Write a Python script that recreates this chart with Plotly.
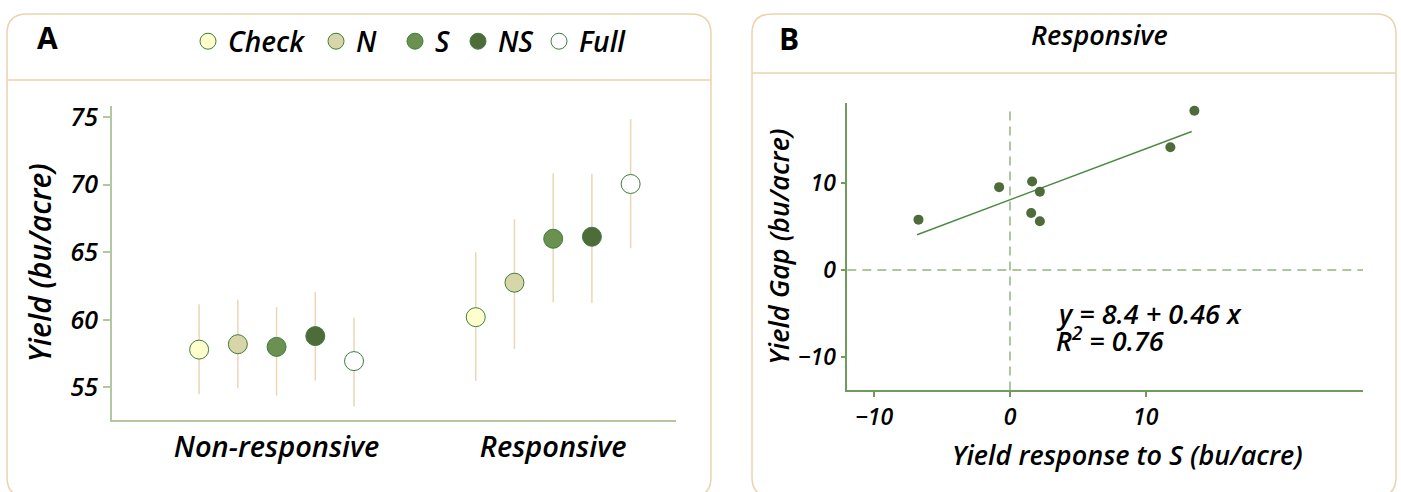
import plotly.graph_objects as go

W, H = 1401, 492

# ---------------- data: panel A ----------------
groups = ["Non-responsive", "Responsive"]
treatments = ["Check", "N", "S", "NS", "Full"]

mean_check = [57.8, 60.2]
hi_check = [61.15, 65.0]
lo_check = [54.5, 55.5]

mean_n = [58.2, 62.75]
hi_n = [61.5, 67.45]
lo_n = [54.95, 57.85]

mean_s = [58.0, 66.0]
hi_s = [60.95, 70.85]
lo_s = [54.4, 61.3]

mean_ns = [58.8, 66.15]
hi_ns = [62.05, 70.8]
lo_ns = [55.5, 61.25]

mean_full = [56.95, 70.05]
hi_full = [60.15, 74.85]
lo_full = [53.6, 65.3]

yield_ticks = [55, 60, 65, 70, 75]

# ---------------- data: panel B ----------------
s_response = [-6.75, -0.81, 1.62, 2.19, 1.55, 2.19, 11.80, 13.57]
yield_gap = [5.79, 9.53, 10.18, 9.01, 6.55, 5.60, 14.11, 18.31]
fit_x = [-6.83, 13.40]
fit_y = [4.05, 15.93]
b_ticks = [-10, 0, 10]

# ---------------- styles ----------------
FONT = "Open Sans"
fill_colors = ["#FFFFCC", "#D8D6A8", "#6A9150", "#4E6B3A", "#FFFFFF"]
edge_color = "#3E7D3E"
err_color = "#EBD6B6"
frame_color = "#EBD3AE"
axisA_color = "#B3C8A0"
axisB_color = "#6F9C5C"
dot_color = "#4E6B3A"
legend_left_px = [188, 316, 395, 458, 539]   # left edge of each legend entry (layout)


def it(size, weight=600, style="italic", color="black"):
    return dict(family=FONT, size=size, weight=weight, style=style, color=color)


def px(x):
    return x / W


def py(y):
    return 1 - y / H


means = [mean_check, mean_n, mean_s, mean_ns, mean_full]
highs = [hi_check, hi_n, hi_s, hi_ns, hi_full]
lows = [lo_check, lo_n, lo_s, lo_ns, lo_full]
legend_ids = ["legend"] + [f"legend{i}" for i in range(2, len(treatments) + 1)]

fig = go.Figure()

for name, m, hi, lo, col, lg in zip(treatments, means, highs, lows, fill_colors, legend_ids):
    fig.add_trace(go.Scatter(
        x=groups, y=m, name=name, mode="markers",
        marker=dict(size=19, color=col, line=dict(color=edge_color, width=1)),
        error_y=dict(type="data", symmetric=False,
                     array=[h - v for h, v in zip(hi, m)],
                     arrayminus=[v - l for l, v in zip(lo, m)],
                     color=err_color, thickness=1.5, width=0),
        xaxis="x", yaxis="y", showlegend=True, legend=lg,
    ))

fig.add_trace(go.Scatter(
    x=fit_x, y=fit_y, mode="lines", line=dict(color="#4C8A45", width=1.5),
    xaxis="x2", yaxis="y2", showlegend=False,
))
fig.add_trace(go.Scatter(
    x=s_response, y=yield_gap, mode="markers",
    marker=dict(size=10, color=dot_color),
    xaxis="x2", yaxis="y2", showlegend=False,
))


def rounded_rect(x0, y0, x1, y1, r):
    pts = [
        ("M", [(x0 + r, y0)]), ("L", [(x1 - r, y0)]), ("Q", [(x1, y0), (x1, y0 + r)]),
        ("L", [(x1, y1 - r)]), ("Q", [(x1, y1), (x1 - r, y1)]),
        ("L", [(x0 + r, y1)]), ("Q", [(x0, y1), (x0, y1 - r)]),
        ("L", [(x0, y0 + r)]), ("Q", [(x0, y0), (x0 + r, y0)]),
    ]
    s = ""
    for cmd, ps in pts:
        s += cmd + " " + " ".join(f"{px(a):.5f},{py(b):.5f}" for a, b in ps) + " "
    return s + "Z"


shapes = [
    dict(type="path", xref="paper", yref="paper", path=rounded_rect(7, 7, 711, 497, 20),
         line=dict(color=frame_color, width=1.5), layer="below"),
    dict(type="path", xref="paper", yref="paper", path=rounded_rect(752, 7, 1396, 497, 20),
         line=dict(color=frame_color, width=1.5), layer="below"),
    dict(type="line", xref="paper", yref="paper", x0=px(7), x1=px(711), y0=py(74), y1=py(74),
         line=dict(color=frame_color, width=1.5)),
    dict(type="line", xref="paper", yref="paper", x0=px(752), x1=px(1396), y0=py(67), y1=py(67),
         line=dict(color=frame_color, width=1.5)),
    dict(type="line", xref="x2 domain", yref="y2", x0=0, x1=1, y0=0, y1=0,
         line=dict(color="#93B47F", width=1.5, dash="9px,6px"), layer="below"),
    dict(type="line", xref="x2", yref="y2 domain", x0=0, x1=0, y0=0, y1=0.99,
         line=dict(color="#93B47F", width=1.5, dash="9px,6px"), layer="below"),
]

annotations = [
    dict(text="A", x=px(47), y=py(31), xref="paper", yref="paper", showarrow=False,
         font=it(30, weight=700, style="normal"), xanchor="center", yanchor="middle"),
    dict(text="B", x=px(789), y=py(32), xref="paper", yref="paper", showarrow=False,
         font=it(30, weight=700, style="normal"), xanchor="center", yanchor="middle"),
    dict(text="Responsive", x=px(1099), y=py(28), xref="paper", yref="paper", showarrow=False,
         font=it(27), xanchor="center", yanchor="middle"),
    dict(text="y = 8.4 + 0.46 x", x=px(1054), y=py(311),
         xref="paper", yref="paper", showarrow=False, align="left",
         font=it(27), xanchor="left", yanchor="middle"),
    dict(text="R<sup>2</sup> = 0.76", x=px(1054), y=py(337),
         xref="paper", yref="paper", showarrow=False, align="left",
         font=it(27), xanchor="left", yanchor="middle"),
    dict(text="Yield response to S (bu/acre)", x=px(1127), y=py(454),
         xref="paper", yref="paper", showarrow=False,
         font=it(27), xanchor="center", yanchor="middle"),
]

legend_layouts = {}
for lg, lx in zip(legend_ids, legend_left_px):
    legend_layouts[lg] = dict(x=px(lx), y=py(35), xanchor="left", yanchor="middle",
                              font=it(28), bgcolor="rgba(0,0,0,0)", itemclick=False)

fig.update_layout(
    width=W, height=H,
    margin=dict(l=0, r=0, t=0, b=0),
    paper_bgcolor="white", plot_bgcolor="white",
    scattermode="group", scattergap=0.3,
    font=dict(family=FONT, color="black"),
    showlegend=True,
    xaxis=dict(domain=[px(112), px(676)], type="category", range=[-0.595, 1.444],
               showline=True, linecolor=axisA_color, linewidth=2, ticks="",
               showgrid=False, zeroline=False, tickfont=it(29), anchor="y"),
    yaxis=dict(domain=[py(419), py(100)], range=[52.59, 75.85], tickvals=yield_ticks,
               showline=True, linecolor=axisA_color, linewidth=2, ticks="outside",
               ticklen=7, tickcolor=axisA_color, tickwidth=1.5, showgrid=False,
               zeroline=False, tickfont=it(25),
               title=dict(text="Yield (bu/acre)", font=it(30), standoff=10), anchor="x"),
    xaxis2=dict(domain=[px(847.3), px(1363)], range=[-11.98, 26.0], tickvals=b_ticks,
                showline=True, linecolor=axisB_color, linewidth=1.5, ticks="outside",
                ticklen=5, tickcolor=axisB_color, tickwidth=1.5, showgrid=False,
                zeroline=False, tickfont=it(23), anchor="y2"),
    yaxis2=dict(domain=[py(389), py(97.3)], range=[-13.87, 19.22], tickvals=b_ticks,
                showline=True, linecolor=axisB_color, linewidth=1.5, ticks="outside",
                ticklen=5, tickcolor=axisB_color, tickwidth=1.5, showgrid=False,
                zeroline=False, tickfont=it(23),
                title=dict(text="Yield Gap (bu/acre)", font=it(27), standoff=0),
                anchor="x2"),
    shapes=shapes, annotations=annotations,
    **legend_layouts,
)

fig.write_html("out.html", config={"displayModeBar": False},
               post_script="document.body.style.margin='0';")
